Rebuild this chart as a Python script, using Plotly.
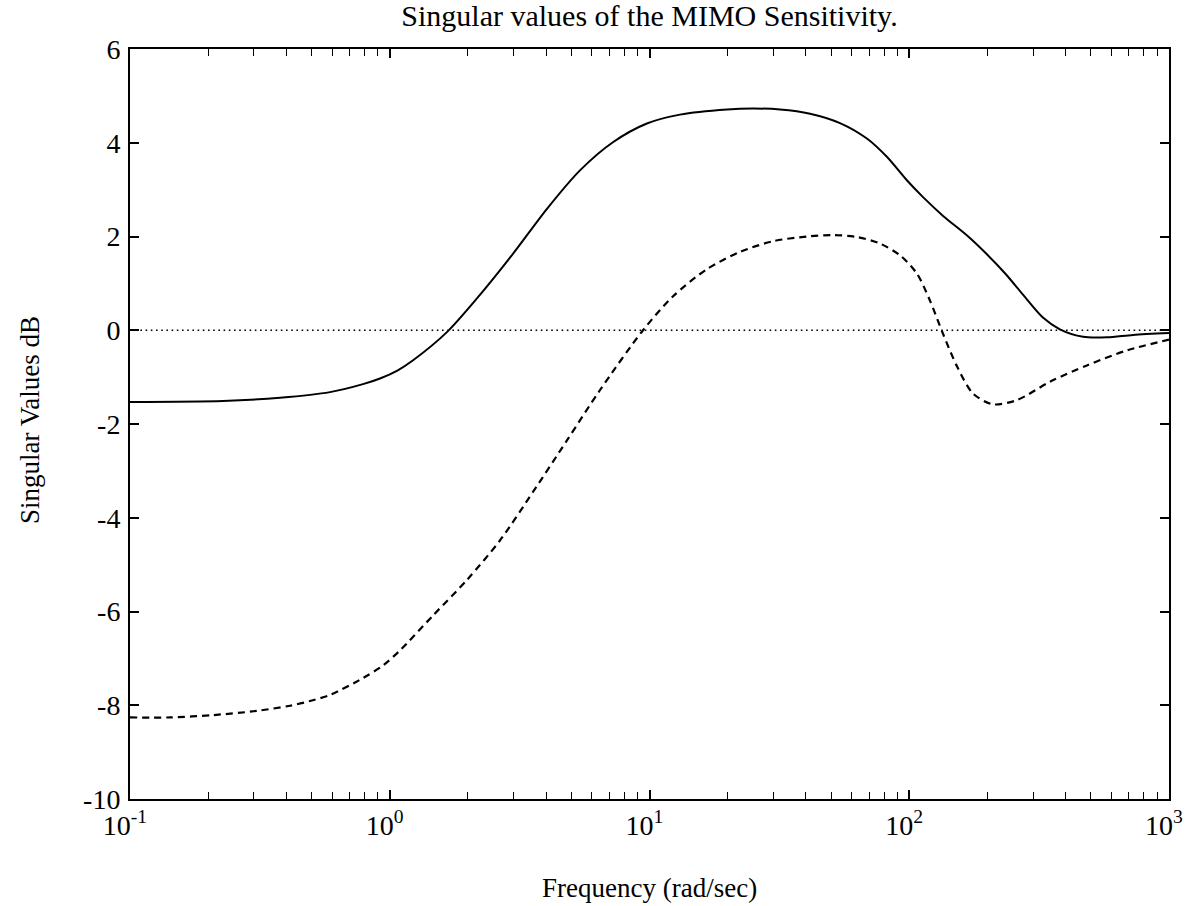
import plotly.graph_objects as go

# Largest singular value (solid)
freq_max = [0.1, 0.228, 0.378, 0.589, 0.789, 0.917, 1.07, 1.23, 1.66, 2.22, 2.98, 4.03,
            5.40, 7.23, 9.77, 13.1, 19.9, 25.0, 31.8, 41.5, 54.1, 68.7, 82.0, 97.9,
            113, 135, 167, 199, 235, 274, 327, 380, 467, 577, 727, 1000]
sv_max = [-1.53, -1.51, -1.44, -1.32, -1.15, -1.03, -0.86, -0.64, -0.04, 0.75, 1.63, 2.59,
          3.41, 4.01, 4.41, 4.60, 4.71, 4.73, 4.71, 4.62, 4.42, 4.09, 3.70, 3.20,
          2.84, 2.44, 2.02, 1.62, 1.20, 0.76, 0.27, 0.02, -0.14, -0.15, -0.10, -0.06]

# Smallest singular value (dashed)
freq_min = [0.1, 0.143, 0.209, 0.308, 0.413, 0.493, 0.589, 0.789, 0.942, 1.095, 1.47, 1.98,
            2.66, 3.56, 4.81, 6.44, 9.44, 12.3, 16.6, 22.3, 29.9, 40.4, 50.8, 62.9,
            77.1, 92.1, 107, 120, 135, 153, 176, 210, 260, 348, 483, 689, 1000]
sv_min = [-8.26, -8.26, -8.21, -8.12, -8.01, -7.91, -7.78, -7.42, -7.15, -6.83, -6.08, -5.33,
          -4.48, -3.45, -2.35, -1.28, 0.0, 0.72, 1.30, 1.67, 1.90, 2.00, 2.03, 1.99,
          1.85, 1.60, 1.21, 0.64, -0.08, -0.78, -1.35, -1.58, -1.49, -1.10, -0.75, -0.43, -0.20]

# 0 dB reference (dotted)
ref_freq = [0.1, 1000]
ref_db = [0, 0]

x_tickvals = [0.1, 1, 10, 100, 1000]
x_ticktext = ["10<sup>-1</sup>", "10<sup>0</sup>", "10<sup>1</sup>", "10<sup>2</sup>", "10<sup>3</sup>"]
x_minor = [0.2, 0.3, 0.4, 0.5, 0.6, 0.7, 0.8, 0.9,
           2, 3, 4, 5, 6, 7, 8, 9,
           20, 30, 40, 50, 60, 70, 80, 90,
           200, 300, 400, 500, 600, 700, 800, 900]
y_tickvals = [-10, -8, -6, -4, -2, 0, 2, 4, 6]
y_ticktext = ["-10", "-8", "-6", "-4", "-2", "0", "2", "4", "6"]

FONT = "Liberation Serif, Times New Roman, serif"

fig = go.Figure()
fig.add_trace(go.Scatter(x=ref_freq, y=ref_db, mode="lines",
                         line=dict(color="black", width=1.6, dash="1.6px,3.6px"),
                         showlegend=False, hoverinfo="skip"))
fig.add_trace(go.Scatter(x=freq_max, y=sv_max, mode="lines",
                         line=dict(color="black", width=2, shape="spline", smoothing=0.8),
                         showlegend=False))
fig.add_trace(go.Scatter(x=freq_min, y=sv_min, mode="lines",
                         line=dict(color="black", width=2.2, shape="spline", smoothing=0.8, dash="7px,5px"),
                         showlegend=False))

fig.update_layout(
    width=1186, height=906,
    margin=dict(l=130, r=17, t=49, b=107, autoexpand=False),
    paper_bgcolor="white", plot_bgcolor="white",
    font=dict(family=FONT, color="black", size=26),
    title=dict(text="Singular values of the MIMO Sensitivity.",
               x=0.5, xref="paper", xanchor="center",
               y=1 - 15 / 906, yref="container", yanchor="middle",
               font=dict(family=FONT, size=30, color="black")),
    showlegend=False,
)

fig.update_xaxes(
    type="log", range=[-1, 3], automargin=False,
    tickmode="array", tickvals=x_tickvals, ticktext=x_ticktext,
    ticks="inside", ticklen=9, tickwidth=1.5, tickcolor="black",
    minor=dict(tickmode="array", tickvals=x_minor, ticks="inside", ticklen=7,
               tickwidth=1.2, tickcolor="black", showgrid=False),
    showline=True, linecolor="black", linewidth=2, mirror="ticks",
    showgrid=False, zeroline=False, ticklabeloverflow="allow",
    ticklabelshift=-5,
    tickfont=dict(family=FONT, size=28, color="black"),
)
fig.update_yaxes(
    range=[-10, 6], automargin=False,
    tickmode="array", tickvals=y_tickvals, ticktext=y_ticktext,
    ticks="inside", ticklen=9, tickwidth=1.5, tickcolor="black",
    showline=True, linecolor="black", linewidth=2, mirror="ticks",
    showgrid=False, zeroline=False,
    tickfont=dict(family=FONT, size=28, color="black"),
    ticklabelstandoff=2,
)

fig.add_annotation(text="Frequency (rad/sec)", xref="paper", yref="paper",
                   x=0.5, y=-(888 - 799) / 750, xanchor="center", yanchor="middle",
                   showarrow=False, font=dict(family=FONT, size=27, color="black"))
fig.add_annotation(text="Singular Values dB", xref="paper", yref="paper",
                   x=-(130 - 30) / 1039, y=0.5 - (420 - 424) / 750, xanchor="center", yanchor="middle",
                   textangle=-90, showarrow=False, font=dict(family=FONT, size=27, color="black"))

fig.write_html("out.html")
